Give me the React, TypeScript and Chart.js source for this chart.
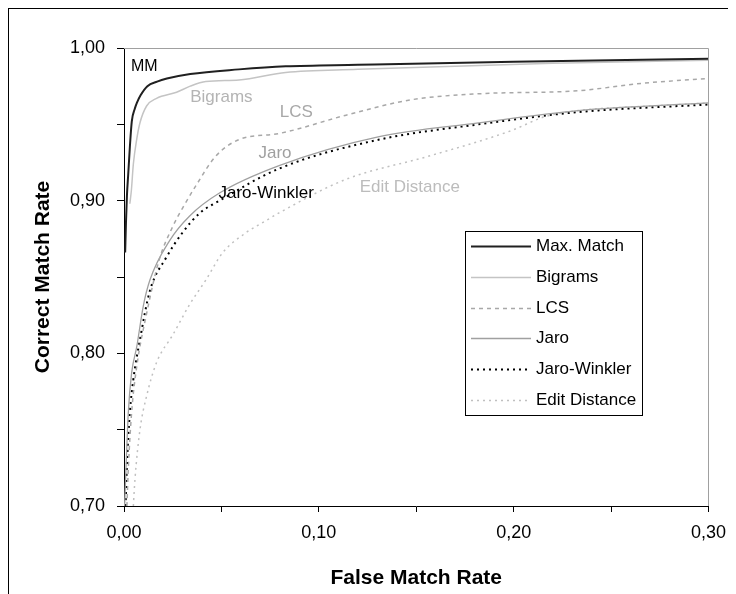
import React, { useEffect, useRef } from "react";
import { Chart, registerables } from "chart.js";

Chart.register(...registerables);

const FONT = '"Liberation Sans", Arial, sans-serif';

// ---- Data ----
const seriesNames = ["Max. Match", "Bigrams", "LCS", "Jaro", "Jaro-Winkler", "Edit Distance"];

const mmX = [0.0006, 0.001, 0.0015, 0.0022, 0.003, 0.004, 0.0055, 0.0066, 0.0085, 0.012, 0.017, 0.022, 0.034, 0.059, 0.083, 0.12, 0.2, 0.3];
const mmY = [0.866, 0.885, 0.903, 0.918, 0.935, 0.952, 0.960, 0.964, 0.969, 0.975, 0.978, 0.980, 0.983, 0.986, 0.988, 0.989, 0.991, 0.993];

const bgX = [0.003, 0.0038, 0.0048, 0.0065, 0.0082, 0.0116, 0.0167, 0.027, 0.034, 0.042, 0.059, 0.083, 0.12, 0.17, 0.22, 0.3];
const bgY = [0.898, 0.907, 0.924, 0.940, 0.951, 0.962, 0.967, 0.971, 0.975, 0.978, 0.979, 0.984, 0.986, 0.988, 0.990, 0.992];

const lcsX = [0.0015, 0.0022, 0.0039, 0.0065, 0.0116, 0.018, 0.025, 0.030, 0.037, 0.047, 0.059, 0.0796, 0.114, 0.147, 0.182, 0.233, 0.267, 0.3];
const lcsY = [0.700, 0.724, 0.761, 0.791, 0.826, 0.861, 0.883, 0.895, 0.910, 0.929, 0.940, 0.944, 0.956, 0.966, 0.970, 0.972, 0.977, 0.980];

const jaroX = [0.0003, 0.0022, 0.0039, 0.0065, 0.0099, 0.0133, 0.0235, 0.0337, 0.049, 0.0796, 0.131, 0.182, 0.233, 0.3];
const jaroY = [0.700, 0.761, 0.787, 0.804, 0.831, 0.848, 0.874, 0.890, 0.905, 0.923, 0.942, 0.951, 0.959, 0.964];

const jwX = [0.0008, 0.0014, 0.003, 0.0048, 0.0082, 0.0133, 0.0218, 0.030, 0.039, 0.049, 0.0796, 0.131, 0.182, 0.233, 0.3];
const jwY = [0.700, 0.724, 0.761, 0.783, 0.809, 0.841, 0.863, 0.879, 0.892, 0.900, 0.921, 0.940, 0.950, 0.958, 0.963];

const edX = [0.0048, 0.0056, 0.0082, 0.0116, 0.0167, 0.025, 0.0337, 0.042, 0.0507, 0.0626, 0.073, 0.0796, 0.114, 0.156, 0.199, 0.216, 0.233, 0.27, 0.3];
const edY = [0.700, 0.717, 0.750, 0.772, 0.794, 0.812, 0.832, 0.848, 0.866, 0.879, 0.887, 0.892, 0.914, 0.929, 0.946, 0.955, 0.959, 0.962, 0.964];

// In-chart annotation labels (data coordinates)
const annoTexts = ["MM", "Bigrams", "LCS", "Jaro", "Jaro-Winkler", "Edit Distance"];
const annoX = [0.0036, 0.034, 0.080, 0.069, 0.0485, 0.121];
const annoY = [0.988, 0.968, 0.958, 0.931, 0.905, 0.909];
const annoColors = ["#000000", "#b4b4b4", "#a8a8a8", "#a0a0a0", "#000000", "#bcbcbc"];

const xMin = 0, xMax = 0.3, yMin = 0.7, yMax = 1.0, tickStep = 0.05;

const toPts = (xs: number[], ys: number[]) => xs.map((x, i) => ({ x, y: ys[i] }));

const fmt = (v: number) => {
  const k = Math.round(v * 100);
  return k % 10 === 0 ? (k / 100).toFixed(2).replace(".", ",") : "";
};

const overlayPlugin = {
  id: "overlay",
  afterDatasetsDraw(chart: any) {
    const { ctx, chartArea, scales } = chart;
    const { left, top, right, bottom } = chartArea;
    const xs = scales.x, ys = scales.y;
    ctx.save();
    // gray top/right frame
    ctx.strokeStyle = "#a0a0a0";
    ctx.lineWidth = 1;
    ctx.setLineDash([]);
    ctx.beginPath();
    ctx.moveTo(left, Math.round(top) + 0.5);
    ctx.lineTo(Math.round(right) + 0.5, Math.round(top) + 0.5);
    ctx.lineTo(Math.round(right) + 0.5, bottom);
    ctx.stroke();

    // annotations
    ctx.textBaseline = "middle";
    ctx.textAlign = "left";
    annoTexts.forEach((t, i) => {
      ctx.font = `${i === 0 ? 16 : 17}px ${FONT}`;
      ctx.fillStyle = annoColors[i];
      ctx.fillText(t, xs.getPixelForValue(annoX[i]), ys.getPixelForValue(annoY[i]));
    });

    // legend box
    const lx = Math.round(left + 341), ly = Math.round(top + 183), lw = 177, lh = 184;
    ctx.fillStyle = "#ffffff";
    ctx.fillRect(lx, ly, lw, lh);
    ctx.strokeStyle = "#000";
    ctx.lineWidth = 1;
    ctx.strokeRect(lx + 0.5, ly + 0.5, lw, lh);
    chart.data.datasets.forEach((ds: any, i: number) => {
      const ry = Math.round(ly + 15 + i * 30.8) + 0.5;
      ctx.strokeStyle = ds.borderColor;
      ctx.lineWidth = ds.borderWidth;
      ctx.setLineDash(ds.borderDash || []);
      ctx.beginPath();
      ctx.moveTo(lx + 6, ry);
      ctx.lineTo(lx + 66, ry);
      ctx.stroke();
      ctx.setLineDash([]);
      ctx.fillStyle = "#000";
      ctx.font = `17px ${FONT}`;
      ctx.fillText(ds.label, lx + 71, ry);
    });
    ctx.restore();
  },
};

export default function App() {
  const ref = useRef<HTMLCanvasElement | null>(null);

  useEffect(() => {
    if (!ref.current) return;
    const common = { pointRadius: 0, fill: false, cubicInterpolationMode: "monotone" as const };
    const chart = new Chart(ref.current, {
      type: "line",
      data: {
        datasets: [
          { ...common, label: seriesNames[0], data: toPts(mmX, mmY), borderColor: "#202020", borderWidth: 2 },
          { ...common, label: seriesNames[1], data: toPts(bgX, bgY), borderColor: "#c4c4c4", borderWidth: 1.5 },
          { ...common, label: seriesNames[2], data: toPts(lcsX, lcsY), borderColor: "#a8a8a8", borderWidth: 1.5, borderDash: [4, 4] },
          { ...common, label: seriesNames[3], data: toPts(jaroX, jaroY), borderColor: "#a0a0a0", borderWidth: 1.3 },
          { ...common, label: seriesNames[4], data: toPts(jwX, jwY), borderColor: "#000000", borderWidth: 2, borderDash: [2, 4] },
          { ...common, label: seriesNames[5], data: toPts(edX, edY), borderColor: "#c0c0c0", borderWidth: 1.5, borderDash: [2, 4] },
        ] as any,
      },
      options: {
        animation: false,
        responsive: false,
        layout: { padding: { left: 0, top: 39, right: 24, bottom: 0 } },
        plugins: { legend: { display: false }, tooltip: { enabled: false } },
        scales: {
          x: {
            type: "linear",
            min: xMin,
            max: xMax,
            afterFit: (s: any) => { s.height = 88; },
            ticks: { stepSize: tickStep, autoSkip: false, maxRotation: 0, callback: (v: any) => fmt(Number(v)), color: "#000", font: { size: 18, family: FONT }, padding: 10 },
            grid: { drawOnChartArea: false, drawTicks: true, tickLength: 6, color: "#000" },
            border: { display: true, color: "#000", width: 1 },
            title: { display: true, text: "False Match Rate", color: "#000", font: { size: 21, weight: "bold", family: FONT }, padding: { top: 0, bottom: 3 } },
          },
          y: {
            type: "linear",
            min: yMin,
            max: yMax,
            afterFit: (s: any) => { s.width = 115; },
            ticks: { stepSize: tickStep, autoSkip: false, callback: (v: any) => fmt(Number(v)), color: "#000", font: { size: 18, family: FONT }, padding: 12 },
            grid: { drawOnChartArea: false, drawTicks: true, tickLength: 7, color: "#000" },
            border: { display: true, color: "#000", width: 1 },
            title: { display: true, text: "Correct Match Rate", color: "#000", font: { size: 21, weight: "bold", family: FONT }, padding: { top: 22, bottom: 0 } },
          },
        },
      } as any,
      plugins: [overlayPlugin],
    });
    return () => chart.destroy();
  }, []);

  return (
    <div
      style={{
        position: "relative",
        width: 728,
        height: 586,
        borderTop: "1px solid #000",
        borderLeft: "1px solid #000",
        boxSizing: "border-box",
        background: "#fff",
      }}
    >
      <canvas ref={ref} width={727} height={585} style={{ display: "block" }} />
    </div>
  );
}
